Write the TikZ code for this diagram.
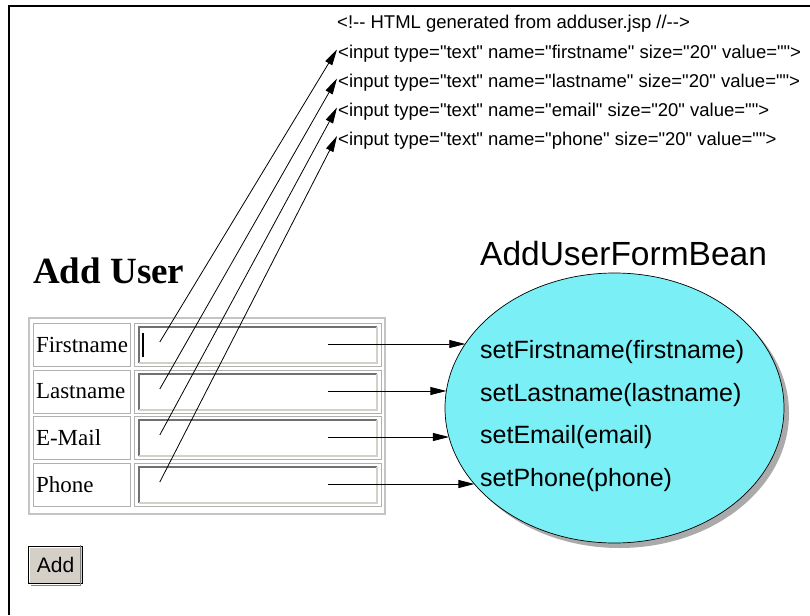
\documentclass[tikz,border=0pt]{standalone}
\usepackage{fontspec}
\setmainfont{Liberation Serif}
\newfontfamily\helv{Liberation Sans}
\usetikzlibrary{arrows.meta,shapes.geometric,shadows,calc}

\definecolor{beanfill}{RGB}{122,240,246}
\definecolor{beanshadow}{RGB}{170,170,170}
\definecolor{btnface}{RGB}{212,208,200}
\definecolor{cellline}{RGB}{176,176,176}
\definecolor{tableline}{RGB}{196,196,196}
\definecolor{sunkdark}{RGB}{112,112,112}
\definecolor{sunklight}{RGB}{212,208,200}

\tikzset{
  codeline/.style={anchor=base west, inner sep=0pt, font=\helv\fontsize{18.5}{20}\selectfont},
  meth/.style={anchor=base west, inner sep=0pt, font=\helv\fontsize{25}{28}\selectfont},
  bean/.style={ellipse, draw, line width=0.7pt, fill=beanfill, minimum width=339pt,
    minimum height=270pt, inner sep=0pt,
    drop shadow={shadow xshift=5pt, shadow yshift=-5pt, fill=beanshadow, opacity=1}},
  labcell/.style={draw=cellline, line width=0.8pt, text width=91pt, align=left,
    inner xsep=3pt, inner ysep=0pt, minimum height=43pt,
    font=\fontsize{23}{25}\selectfont},
  inpcell/.style={draw=cellline, line width=0.8pt, minimum width=247pt, minimum height=43pt, inner sep=0pt},
  field/.style={fill=white, minimum width=238pt, minimum height=36pt, inner sep=0pt},
  conn/.style={line width=0.8pt, -{Triangle[length=16pt,width=8pt]}},
  frameline/.style={line width=1.5pt},
}

\newcommand{\formrow}[3]{%
  % #1 = row index, #2 = top edge of the row, #3 = label
  \node[labcell] (c#1) at (81.5,#2+21.5) {#3};
  \node[inpcell] (i#1) at (257.5,#2+21.5) {};
  \node[field] (f#1) at (258,#2+22) {};
  \draw[sunkdark, line width=2.5pt] (f#1.south west) -- (f#1.north west) -- (f#1.north east);
  \draw[sunklight, line width=2pt] (f#1.north east) -- (f#1.south east) -- (f#1.south west);
  \coordinate (s#1) at ($(f#1.west)+(21,-3)$);
  \coordinate (t#1) at ($(f#1.east)+(-49,-1)$);
}

\begin{document}
\begin{tikzpicture}[x=1pt,y=-1pt]
\useasboundingbox (0,0) rectangle (810,615);

% page frame
\draw[frameline] (810,6) -- (9,6) -- (9,615);

% generated HTML
\node[codeline] (h0) at (337,29) {<!-{}- HTML generated from adduser.jsp //-{}->};
\node[codeline] (h1) at (338,58.5) {<input type="text" name="firstname" size="20" value="">};
\node[codeline] (h2) at (338,87.5) {<input type="text" name="lastname" size="20" value="">};
\node[codeline] (h3) at (338,116.5) {<input type="text" name="email" size="20" value="">};
\node[codeline] (h4) at (338,145) {<input type="text" name="phone" size="20" value="">};

% page heading
\node[anchor=base west, inner sep=0pt, font=\bfseries\fontsize{37}{40}\selectfont] (head) at (33,283) {Add User};

% form table
\draw[tableline, line width=1.5pt] (29,318) rectangle (385,514);
\formrow{1}{323}{Firstname}
\formrow{2}{370}{Lastname}
\formrow{3}{416}{E-Mail}
\formrow{4}{463}{Phone}
% text caret in the first field
\draw[black, line width=1.5pt] ($(f1.north west)+(4,6)$) -- ($(f1.south west)+(4,-6)$);

% submit button
\node[fill=btnface, minimum width=53pt, minimum height=36pt, inner sep=0pt,
      font=\helv\fontsize{21}{23}\selectfont] (btn) at (55.5,565) {Add};
\draw[white, line width=1.2pt] ([shift={(1,-1)}]btn.south west) -- ([shift={(1,1)}]btn.north west) -- ([shift={(-1,1)}]btn.north east);
\draw[black, line width=1.2pt] (btn.north west) -- (btn.north east) -- (btn.south east) -- (btn.south west) -- cycle;
\draw[gray, line width=1.2pt] ([shift={(-2,-2)}]btn.north east) -- ([shift={(-2,2)}]btn.south east) -- ([shift={(2,2)}]btn.south west);

% form bean
\node[bean] (bean) at (614.5,408) {};
\node[anchor=base west, inner sep=0pt, font=\helv\fontsize{33.5}{36}\selectfont] (beantitle) at (480,265) {AddUserFormBean};
\node[meth] (m1) at (480,358) {setFirstname(firstname)};
\node[meth] (m2) at (480,401) {setLastname(lastname)};
\node[meth] (m3) at (480,443) {setEmail(email)};
\node[meth] (m4) at (480,486) {setPhone(phone)};

% fields to generated input tags
\foreach \i in {1,...,4}{
  \draw[conn] (s\i) -- ($(h\i.base west)+(-1,-9)$);
}
% fields to bean setters
\foreach \i in {1,...,4}{
  \draw[conn] let \p1=(t\i), \p2=(bean.center) in
    (t\i) -- ({\x2-169.5pt*sqrt(1-((\y1-\y2)/135pt)^2)},\y1);
}
\end{tikzpicture}
\end{document}
